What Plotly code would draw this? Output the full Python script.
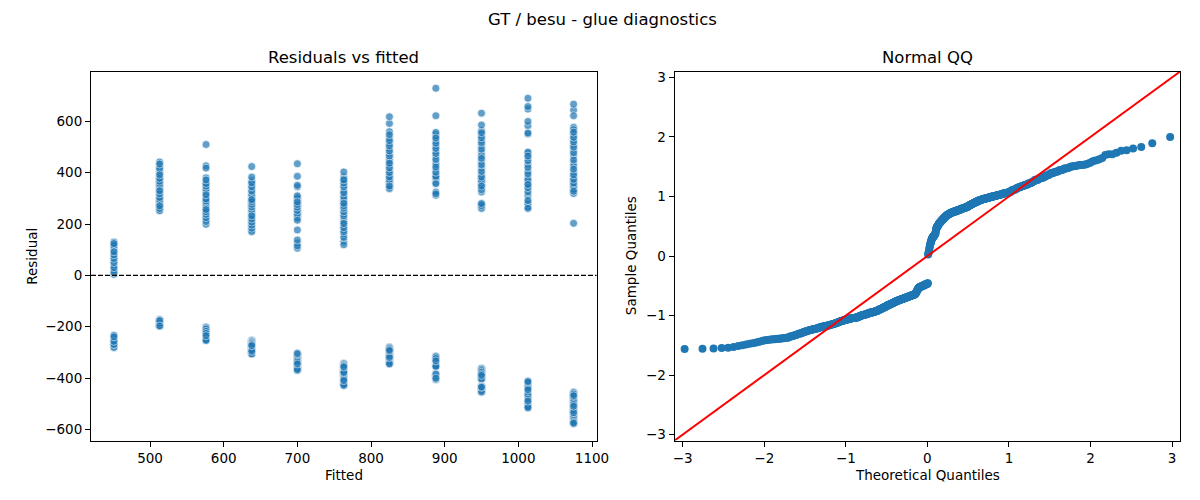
import plotly.graph_objects as go
from statistics import NormalDist

# ---------------- data ----------------
fitted = [451, 513, 576, 638, 700, 763, 825, 888, 950, 1013, 1075]

r451 = [4, 12, 20, 30, 40, 50, 58, 66, 74, 80, 86, 92, 98, 104, 108, 112, 116, 120, 124, 130,
        -233, -236, -239, -242, -244, -245, -247, -248, -250, -251, -253, -254, -256, -257, -259, -260,
        -262, -263, -264, -265, -266, -267, -268, -269, -270, -271, -272, -273, -275, -276, -278, -280, -282]
r513 = [252, 256, 261, 266, 271, 276, 281, 286, 290, 294, 298, 304, 311, 318, 324, 330,
        336, 341, 347, 352, 357, 362, 367, 372, 378, 384, 392, 400, 408, 416, 425, 434, 442,
        -172, -174, -175, -176, -177, -178, -179, -180, -180, -181, -182, -183, -184, -185, -186,
        -187, -188, -189, -190, -190, -191, -192, -192, -193, -194, -194, -195, -196, -197, -198]
r576 = [199, 210, 218, 225, 232, 238, 243, 248, 252, 257, 262, 267, 272, 277, 282, 286, 290, 294, 298,
        306, 314, 322, 330, 336, 342, 348, 352, 358, 364, 372, 380, 418, 427, 510,
        -201, -203, -205, -206, -210, -214, -218, -222, -226, -230, -235, -240,
        -243, -244, -245, -246, -247, -248, -249, -250, -252, -254]
r638 = [170, 177, 184, 190, 196, 202, 208, 214, 220, 226, 232, 240, 248, 255, 262,
        267, 272, 277, 282, 287, 291, 295, 299, 305, 313, 321, 329, 337, 345, 353, 361, 370, 383, 424,
        -253, -255, -257, -259, -261, -262, -264, -266, -268, -270, -272, -274, -276, -278,
        -280, -282, -284, -286, -288, -290, -292, -294, -296, -298, -301, -304, -305, -306]
r700 = [106, 115, 126, 138, 177, 215, 224, 230, 238, 246, 253, 260, 266, 271, 276, 281, 286, 291, 295, 299,
        304, 310, 345, 351, 386, 435,
        -302, -305, -308, -311, -314, -317, -320, -323, -326, -329, -332, -335, -338, -341, -345,
        -349, -351, -353, -355, -357, -359, -361, -363, -365, -366, -368, -370, -371]
r763 = [119, 132, 148, 162, 170, 178, 186, 194, 202, 210, 220, 232, 240, 248, 255, 262,
        266, 271, 276, 281, 286, 290, 294, 298, 306, 314, 322, 330, 345, 352, 360, 366, 372, 377, 384, 403,
        -342, -344, -346, -349, -351, -353, -355, -357, -359, -361, -363, -365, -367, -369, -371, -373,
        -375, -377, -379, -381, -383, -385, -386, -388, -392, -396, -400, -404, -407, -410, -413, -416,
        -419, -422, -424, -426, -428, -429]
r825 = [338, 343, 348, 353, 358, 363, 368, 373, 378, 384, 392, 401, 410, 419, 428, 437, 446, 455,
        465, 475, 485, 495, 505, 515, 525, 535, 548, 560, 592, 618,
        -279, -281, -283, -285, -287, -289, -291, -293, -295, -297, -299, -301, -303,
        -305, -308, -311, -314, -317, -320, -323, -326, -329, -332, -335, -338, -341, -343, -345]
r888 = [312, 318, 325, 357, 362, 367, 372, 376, 380, 384, 386, 392, 402, 412, 422, 432, 442, 452,
        465, 475, 485, 495, 505, 515, 525, 535, 543, 550, 557, 622, 729,
        -314, -317, -320, -324, -328, -333, -338, -344, -349, -350, -351, -352, -353, -354, -355,
        -383, -384, -385, -386, -386, -387, -387, -388, -389, -390, -392, -394, -396, -398, -401, -404, -407]
r950 = [261, 268, 272, 276, 280, 325, 334, 341, 348, 355, 362, 369, 376, 383, 392, 405, 418, 431, 444, 456,
        466, 480, 492, 505, 517, 526, 536, 546, 556, 564, 586, 632,
        -362, -365, -368, -371, -374, -377, -380, -384, -388, -390, -392, -394, -396, -398, -400, -402,
        -404, -406, -432, -433, -434, -435, -436, -437, -438, -439, -440, -441, -444, -447, -450, -453, -455]
r1013 = [261, 266, 272, 278, 285, 292, 310, 325, 336, 342, 348, 354, 360, 366, 372, 380,
         395, 405, 420, 432, 446, 458, 465, 472, 478, 480, 551, 555, 583, 600, 648, 658, 690,
         -411, -413, -415, -417, -419, -421, -423, -426, -429, -432, -435, -439, -443, -446, -449, -452,
         -455, -458, -461, -464, -468, -472, -482, -486, -490, -494, -498, -502, -508, -511, -513, -515, -517]
r1075 = [203, 319, 328, 336, 342, 348, 354, 360, 367, 374, 382, 392, 402, 414, 426, 438, 450,
         466, 478, 490, 500, 510, 520, 528, 538, 548, 558, 568, 577, 622, 644, 667,
         -454, -457, -460, -463, -466, -469, -472, -475, -478, -480, -483, -488, -493, -498, -503,
         -508, -510, -512, -514, -516, -518, -520, -521, -523, -524, -527, -531, -535, -539, -543, -546,
         -550, -555, -560, -565, -570, -572, -574, -576, -578]

groups = [r451, r513, r576, r638, r700, r763, r825, r888, r950, r1013, r1075]

x_ticks = [500, 600, 700, 800, 900, 1000, 1100]
y_ticks = [-600, -400, -200, 0, 200, 400, 600]
q_ticks = [-3, -2, -1, 0, 1, 2, 3]

# ---------------- build ----------------
xs, ys = [], []
for f, g in zip(fitted, groups):
    xs += [f] * len(g)
    ys += g

n = len(ys)
# draw order mixed (like unsorted raw data) so overlaps look natural
order = sorted(range(n), key=lambda i: (i * 7919) % n)
xs_draw = [xs[i] for i in order]
ys_draw = [ys[i] for i in order]

mean = sum(ys) / n
sd = (sum((v - mean) ** 2 for v in ys) / n) ** 0.5
sample_q = sorted((v - mean) / sd for v in ys)
nd = NormalDist()
theo_q = [nd.inv_cdf(i / (n + 1)) for i in range(1, n + 1)]

xspan = max(fitted) - min(fitted)
xr = [min(fitted) - 0.05 * xspan, max(fitted) + 0.05 * xspan]
yspan = max(ys) - min(ys)
yr = [min(ys) - 0.05 * yspan, max(ys) + 0.05 * yspan]
qlim = [-3.1, 3.1]

BLUE = "#1f77b4"
FONT = "DejaVu Sans"
W, H = 1200, 500
OFF_X, OFF_Y = 0, 8  # page offset of the plot div

fig = go.Figure()
fig.add_trace(go.Scatter(
    x=xs_draw, y=ys_draw, mode="markers", xaxis="x", yaxis="y",
    marker=dict(size=8, color=BLUE, opacity=0.7, line=dict(color="white", width=0.75)),
    showlegend=False, hoverinfo="skip"))
fig.add_trace(go.Scatter(
    x=theo_q, y=sample_q, mode="markers", xaxis="x2", yaxis="y2",
    marker=dict(size=8, color=BLUE, line=dict(width=0)),
    showlegend=False, hoverinfo="skip"))
fig.add_trace(go.Scatter(
    x=qlim, y=qlim, mode="lines", xaxis="x2", yaxis="y2",
    line=dict(color="red", width=2), showlegend=False, hoverinfo="skip"))

def px_x(p):
    return (p - OFF_X) / W

def px_y(p):
    return 1 - (p - OFF_Y) / H

axis_common = dict(showline=True, linecolor="black", linewidth=1, mirror=True,
                   ticks="outside", ticklen=5, tickwidth=1, tickcolor="black",
                   showgrid=False, zeroline=False,
                   tickfont=dict(family=FONT, size=13.5, color="black"))

fig.update_layout(
    width=W, height=H,
    margin=dict(l=0, r=0, t=0, b=0),
    paper_bgcolor="white", plot_bgcolor="white",
    font=dict(family=FONT, color="black"),
    xaxis=dict(domain=[px_x(82), px_x(594)], range=xr, tickvals=x_ticks, anchor="y", **axis_common),
    yaxis=dict(domain=[px_y(442), px_y(70)], range=yr, tickvals=y_ticks, anchor="x", **axis_common),
    xaxis2=dict(domain=[px_x(673), px_x(1185)], range=qlim, tickvals=q_ticks, anchor="y2", **axis_common),
    yaxis2=dict(domain=[px_y(442), px_y(70)], range=qlim, tickvals=q_ticks, anchor="x2", **axis_common),
    shapes=[dict(type="line", xref="x domain", yref="y", x0=0, x1=1, y0=0, y1=0,
                 line=dict(color="black", width=1.2, dash="5px,2px"))],
)

def ann(text, x, y, size, angle=0):
    fig.add_annotation(text=text, xref="paper", yref="paper", x=px_x(x), y=px_y(y),
                       xanchor="center", yanchor="middle", showarrow=False, textangle=angle,
                       font=dict(family=FONT, size=size, color="black"))

ann("GT / besu - glue diagnostics", 600, 18, 16.5)
ann("Residuals vs fitted", 338, 56, 16.5)
ann("Normal QQ", 929, 56, 16.5)
ann("Fitted", 338, 477, 13.5)
ann("Theoretical Quantiles", 929, 477, 13.5)
ann("Residual", 22, 256, 13.5, -90)
ann("Sample Quantiles", 629, 256, 13.5, -90)

fig.write_html("out.html")
